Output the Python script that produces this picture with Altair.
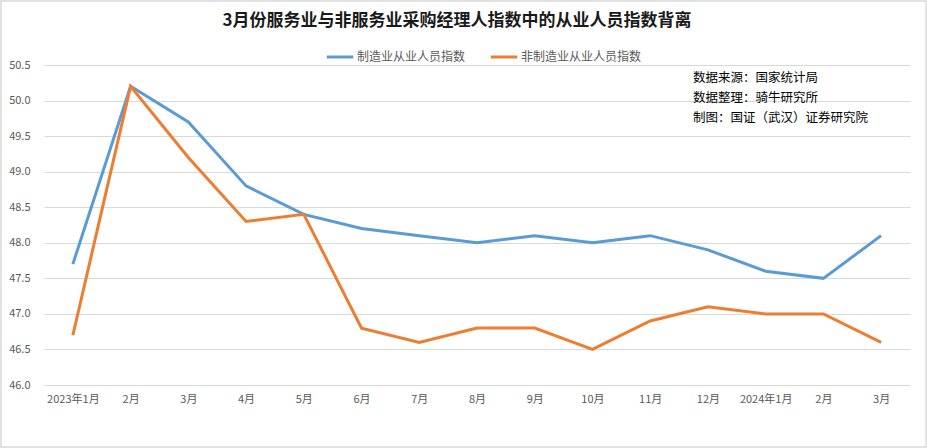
import altair as alt
import pandas as pd

months = ["2023年1月", "2月", "3月", "4月", "5月", "6月", "7月", "8月", "9月",
          "10月", "11月", "12月", "2024年1月", "2月 ", "3月 "]
manu = [47.7, 50.2, 49.7, 48.8, 48.4, 48.2, 48.1, 48.0, 48.1, 48.0, 48.1, 47.9, 47.6, 47.5, 48.1]
nonmanu = [46.7, 50.2, 49.2, 48.3, 48.4, 46.8, 46.6, 46.8, 46.8, 46.5, 46.9, 47.1, 47.0, 47.0, 46.6]
series_names = ["制造业从业人员指数", "非制造业从业人员指数"]
colors = ["#5B9BD5", "#ED7D31"]
title_text = "3月份服务业与非服务业采购经理人指数中的从业人员指数背离"
notes = ["数据来源：国家统计局", "数据整理：骑牛研究所", "制图：国证（武汉）证券研究院"]

rows = []
for i, m in enumerate(months):
    rows.append({"month": m, "series": series_names[0], "value": manu[i], "order": i})
    rows.append({"month": m, "series": series_names[1], "value": nonmanu[i], "order": i})
df = pd.DataFrame(rows)

FONT = "Noto Sans CJK SC"
W, H = 866, 320

lines = alt.Chart(df).mark_line(strokeWidth=3, interpolate="linear").encode(
    x=alt.X("month:N", sort=months,
            scale=alt.Scale(paddingInner=0, paddingOuter=0),
            axis=alt.Axis(title=None, labelAngle=0, domain=False, ticks=False,
                          labelPadding=8, labelFontSize=11, labelColor="#595959",
                          labelFont=FONT, grid=False)),
    y=alt.Y("value:Q", scale=alt.Scale(domain=[46.0, 50.5], zero=False, nice=False),
            axis=alt.Axis(title=None, values=[46.0, 46.5, 47.0, 47.5, 48.0, 48.5, 49.0, 49.5, 50.0, 50.5],
                          format=".1f", domain=False, ticks=False, labelPadding=14,
                          labelFontSize=11, labelColor="#595959", labelFont=FONT,
                          gridColor="#D9D9D9", gridWidth=1)),
    color=alt.Color("series:N", sort=series_names,
                    scale=alt.Scale(domain=series_names, range=colors),
                    legend=alt.Legend(title=None, orient="none", direction="horizontal",
                                      legendX=281, legendY=-23, symbolType="stroke",
                                      symbolSize=700, symbolStrokeWidth=3,
                                      labelFontSize=12, labelColor="#595959", labelFont=FONT,
                                      columnPadding=18, labelOffset=2)),
    detail="series:N",
    order="order:Q",
)

title_df = pd.DataFrame({"t": [title_text]})
title = alt.Chart(title_df).mark_text(fontSize=17, fontWeight="bold", font=FONT,
                                      color="#1a1a1a", align="center", baseline="middle").encode(
    x=alt.value(W / 2 - 20), y=alt.value(-44), text="t:N")

notes_df = pd.DataFrame({"t": notes, "i": [0, 1, 2]})
note_marks = alt.Chart(notes_df).mark_text(fontSize=12.5, font=FONT, color="#000000",
                                           align="left", baseline="middle").encode(
    x=alt.value(649),
    y=alt.Y("i:Q", scale=alt.Scale(domain=[0, 2], range=[13, 53], zero=False, nice=False), axis=None),
    text="t:N")

frame = alt.Chart(title_df).mark_rect(fill=None, stroke="#D9D9D9", strokeWidth=1.5).encode(
    x=alt.value(-43), x2=alt.value(W + 16), y=alt.value(-64), y2=alt.value(H + 62))

chart = alt.layer(frame, lines, title, note_marks).resolve_scale(y="independent").properties(
    width=W, height=H,
    padding={"left": 44, "top": 65, "right": 17, "bottom": 63},
    autosize=alt.AutoSizeParams(type="none"),
    background="white",
).configure_view(stroke=None)

chart.save("out.html", embed_options={"renderer": "svg", "actions": False})
